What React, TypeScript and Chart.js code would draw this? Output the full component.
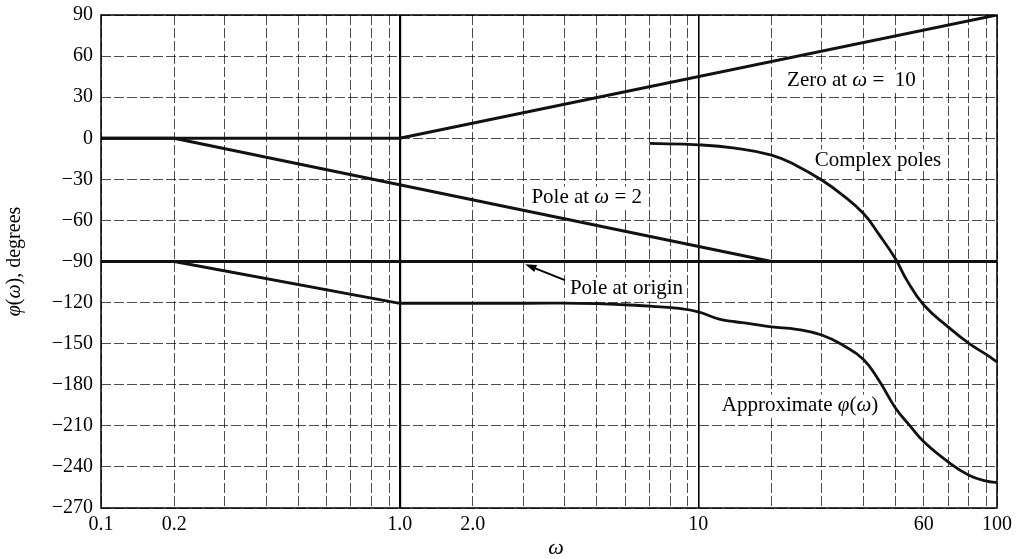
import React, { useEffect, useRef } from 'react';
import { Chart, registerables, LogarithmicScale } from 'chart.js';

Chart.register(...registerables);

// ---------------- data ----------------
const ZERO_OMEGA = [0.1, 1, 100];
const ZERO_PHASE = [0, 0, 90];

const POLE2_OMEGA = [0.1, 0.2, 20];
const POLE2_PHASE = [0, 0, -90];

const ORIGIN_OMEGA = [0.1, 100];
const ORIGIN_PHASE = [-90, -90];

const COMPLEX_OMEGA = [7, 10, 15, 20, 25, 30, 35, 40, 45, 50, 54, 60, 70, 80, 90, 100];
const COMPLEX_PHASE = [-3.8, -4.8, -7.2, -12.3, -20, -30.5, -41.5, -55, -70.7, -88, -103.6, -121.8, -137.7, -149.8, -158, -163.3];

const APPROX_ASYMPTOTE_OMEGA = [0.1, 0.2, 1];
const APPROX_ASYMPTOTE_PHASE = [-90, -90, -120.5];

const APPROX_OMEGA = [1, 3, 5, 7, 8.5, 10, 13, 15, 17, 20, 25, 30, 35, 40, 45, 50, 55, 60, 70, 80, 90, 100];
const APPROX_PHASE = [-120.5, -120.5, -120.7, -122.6, -124.3, -126.8, -132.3, -134, -135.3, -137.7, -139.5, -143.7, -151, -161.5, -177.5, -197, -209.7, -221.7, -236.3, -246, -250.4, -251.3];

// grid / tick values of the log paper
const GRID_OMEGA = [
  0.1, 0.2, 0.3, 0.4, 0.5, 0.6, 0.7, 0.8, 0.9,
  1, 2, 3, 4, 5, 6, 7, 8, 9,
  10, 20, 30, 40, 50, 60, 70, 80, 90, 100,
];
const LABEL_OMEGA = [0.1, 0.2, 1, 2, 10, 60, 100];
const LABEL_TEXT = ['0.1', '0.2', '1.0', '2.0', '10', '60', '100'];

const PHASE_MIN = -270;
const PHASE_MAX = 90;
const PHASE_STEP = 30;

// calibration of the printed log paper (position of each mantissa inside a decade)
const MANTISSA_KNOTS = [1, 2, 3, 4, 5, 6, 7, 8, 9, 10];
const PAPER_FRACTION = [0, 0.245, 0.413, 0.553, 0.66, 0.755, 0.836, 0.906, 0.965, 1];

type Part = { t: string; i?: boolean };
const ANNOTATIONS: { parts: Part[]; omega: number; phase: number }[] = [
  { parts: [{ t: 'Zero at ' }, { t: 'ω', i: true }, { t: ' =  10' }], omega: 23.1, phase: 42.5 },
  { parts: [{ t: 'Complex poles' }], omega: 28.6, phase: -15.9 },
  { parts: [{ t: 'Pole at ' }, { t: 'ω', i: true }, { t: ' = 2' }], omega: 3.2, phase: -43 },
  { parts: [{ t: 'Pole at origin' }], omega: 4.16, phase: -109.4 },
  { parts: [{ t: 'Approximate ' }, { t: 'φ', i: true }, { t: '(' }, { t: 'ω', i: true }, { t: ')' }], omega: 13.2, phase: -194.9 },
];
const ARROW = { fromOmega: 4.0, fromPhase: -103.6, toOmega: 3.05, toPhase: -92 };

const Y_TITLE: Part[] = [{ t: 'φ', i: true }, { t: '(' }, { t: 'ω', i: true }, { t: '), degrees' }];
const X_TITLE: Part[] = [{ t: 'ω', i: true }];

// ---------------- scale ----------------
function paperDecades(v: number): number {
  const k = Math.floor(Math.log10(v) + 1e-9);
  let m = v / Math.pow(10, k);
  if (m < 1) m = 1;
  for (let i = 0; i < MANTISSA_KNOTS.length - 1; i++) {
    if (m <= MANTISSA_KNOTS[i + 1] + 1e-9) {
      const t = (m - MANTISSA_KNOTS[i]) / (MANTISSA_KNOTS[i + 1] - MANTISSA_KNOTS[i]);
      return k + PAPER_FRACTION[i] + t * (PAPER_FRACTION[i + 1] - PAPER_FRACTION[i]);
    }
  }
  return k + 1;
}
function paperValue(u: number): number {
  const k = Math.floor(u + 1e-9);
  const f = u - k;
  for (let i = 0; i < PAPER_FRACTION.length - 1; i++) {
    if (f <= PAPER_FRACTION[i + 1] + 1e-9) {
      const t = (f - PAPER_FRACTION[i]) / (PAPER_FRACTION[i + 1] - PAPER_FRACTION[i]);
      return (MANTISSA_KNOTS[i] + t * (MANTISSA_KNOTS[i + 1] - MANTISSA_KNOTS[i])) * Math.pow(10, k);
    }
  }
  return Math.pow(10, k + 1);
}

class PaperLogScale extends LogarithmicScale {
  static id = 'paperLog';
  getPixelForValue(value: any) {
    if (value === null || value === undefined || isNaN(value) || value <= 0) return NaN;
    const a = paperDecades((this as any).min);
    const b = paperDecades((this as any).max);
    return (this as any).getPixelForDecimal((paperDecades(value) - a) / (b - a));
  }
  getValueForPixel(pixel: number) {
    const a = paperDecades((this as any).min);
    const b = paperDecades((this as any).max);
    return paperValue(a + (this as any).getDecimalForPixel(pixel) * (b - a));
  }
}
Chart.register(PaperLogScale as any);

// ---------------- drawing helpers ----------------
const FAMILY = '"Liberation Serif", "Times New Roman", serif';
function fontOf(size: number, italic?: boolean) {
  return `${italic ? 'italic ' : ''}${size}px ${FAMILY}`;
}
function richWidth(ctx: CanvasRenderingContext2D, parts: Part[], size: number) {
  let w = 0;
  for (const p of parts) {
    ctx.font = fontOf(size, p.i);
    w += ctx.measureText(p.t).width;
  }
  return w;
}
function drawRich(ctx: CanvasRenderingContext2D, parts: Part[], x: number, y: number, size: number, align: 'left' | 'center') {
  const w = richWidth(ctx, parts, size);
  let cx = align === 'center' ? x - w / 2 : x;
  ctx.fillStyle = '#000';
  ctx.textBaseline = 'middle';
  ctx.textAlign = 'left';
  for (const p of parts) {
    ctx.font = fontOf(size, p.i);
    ctx.fillText(p.t, cx, y);
    cx += ctx.measureText(p.t).width;
  }
}

const ANN_SIZE = 21;

const overlayPlugin = {
  id: 'bodeOverlay',
  beforeDatasetsDraw(chart: any) {
    const { ctx, scales } = chart;
    ctx.save();
    for (const an of ANNOTATIONS) {
      const x = scales.x.getPixelForValue(an.omega);
      const y = scales.y.getPixelForValue(an.phase);
      const w = richWidth(ctx, an.parts, ANN_SIZE);
      ctx.fillStyle = '#fff';
      ctx.fillRect(x - 3, y - ANN_SIZE * 0.5, w + 6, ANN_SIZE);
    }
    ctx.restore();
  },
  afterDatasetsDraw(chart: any) {
    const { ctx, chartArea: a, scales } = chart;
    ctx.save();
    ctx.setLineDash([]);
    ctx.strokeStyle = '#000';
    ctx.lineWidth = 1.5;
    ctx.strokeRect(a.left, a.top, a.right - a.left, a.bottom - a.top);

    for (const an of ANNOTATIONS) {
      drawRich(ctx, an.parts, scales.x.getPixelForValue(an.omega), scales.y.getPixelForValue(an.phase), ANN_SIZE, 'left');
    }

    // arrow
    const x1 = scales.x.getPixelForValue(ARROW.fromOmega);
    const y1 = scales.y.getPixelForValue(ARROW.fromPhase);
    const x2 = scales.x.getPixelForValue(ARROW.toOmega);
    const y2 = scales.y.getPixelForValue(ARROW.toPhase);
    const ang = Math.atan2(y2 - y1, x2 - x1);
    const head = 12;
    ctx.strokeStyle = '#000';
    ctx.lineWidth = 2;
    ctx.beginPath();
    ctx.moveTo(x1, y1);
    ctx.lineTo(x2 - Math.cos(ang) * head * 0.8, y2 - Math.sin(ang) * head * 0.8);
    ctx.stroke();
    ctx.fillStyle = '#000';
    ctx.beginPath();
    ctx.moveTo(x2, y2);
    ctx.lineTo(x2 - head * Math.cos(ang - 0.32), y2 - head * Math.sin(ang - 0.32));
    ctx.lineTo(x2 - head * Math.cos(ang + 0.32), y2 - head * Math.sin(ang + 0.32));
    ctx.closePath();
    ctx.fill();

    // axis titles
    ctx.save();
    ctx.translate(15, (a.top + a.bottom) / 2);
    ctx.rotate(-Math.PI / 2);
    drawRich(ctx, Y_TITLE, 0, 0, 20, 'center');
    ctx.restore();
    drawRich(ctx, X_TITLE, (a.left + a.right) / 2 + 7, 548, 22, 'center');
    ctx.restore();
  },
};

function series(omega: number[], phase: number[], label: string, width: number, smooth: boolean) {
  return {
    label,
    data: omega.map((w, i) => ({ x: w, y: phase[i] })),
    showLine: true,
    borderColor: '#111',
    backgroundColor: '#111',
    borderWidth: width,
    pointRadius: 0,
    pointHoverRadius: 0,
    fill: false,
    tension: smooth ? 0.45 : 0,
    cubicInterpolationMode: 'default',
    borderCapStyle: 'butt',
    borderJoinStyle: 'round',
  };
}

const isLabel = (v: number) => LABEL_OMEGA.findIndex((l) => Math.abs(l - v) < l * 1e-6);

export default function App() {
  const ref = useRef<HTMLCanvasElement>(null);
  useEffect(() => {
    const canvas = ref.current;
    if (!canvas) return;
    const tickFont = { family: FAMILY, size: 20 };
    const chart = new Chart(canvas, {
      type: 'scatter',
      data: {
        datasets: [
          series(ORIGIN_OMEGA, ORIGIN_PHASE, 'Pole at origin', 3, false),
          series(ZERO_OMEGA, ZERO_PHASE, 'Zero at ω = 10', 3, false),
          series(POLE2_OMEGA, POLE2_PHASE, 'Pole at ω = 2', 3, false),
          series(COMPLEX_OMEGA, COMPLEX_PHASE, 'Complex poles', 2.8, true),
          series(APPROX_ASYMPTOTE_OMEGA, APPROX_ASYMPTOTE_PHASE, 'Approximate φ(ω)', 2.8, false),
          series(APPROX_OMEGA, APPROX_PHASE, 'Approximate φ(ω)', 2.8, true),
        ] as any,
      },
      options: {
        responsive: false,
        animation: false,
        devicePixelRatio: 1,
        events: [],
        layout: { padding: { top: 15, right: 21, bottom: 0, left: 0 } },
        plugins: { legend: { display: false }, tooltip: { enabled: false }, title: { display: false } },
        scales: {
          x: {
            type: 'paperLog' as any,
            min: 0.1,
            max: 100,
            afterBuildTicks: (s: any) => {
              s.ticks = GRID_OMEGA.map((v) => ({ value: v }));
            },
            afterFit: (s: any) => {
              s.height = 51;
              s.paddingLeft = 0;
              s.paddingRight = 0;
            },
            ticks: {
              autoSkip: false,
              maxRotation: 0,
              minRotation: 0,
              padding: 5,
              font: tickFont,
              color: '#000',
              callback: (v: any) => {
                const i = isLabel(Number(v));
                return i >= 0 ? LABEL_TEXT[i] : '';
              },
            },
            grid: {
              drawTicks: false,
              color: (c: any) => {
                const v = c.tick ? c.tick.value : 0;
                return v === 1 || v === 10 ? '#000' : 'rgba(0,0,0,0.7)';
              },
              lineWidth: (c: any) => {
                const v = c.tick ? c.tick.value : 0;
                return v === 1 ? 2.2 : v === 10 ? 1.6 : 1;
              },
            },
            border: {
              display: false,
              dash: (c: any) => {
                const v = c.tick ? c.tick.value : 0;
                return v === 1 || v === 10 ? [] : [10, 3];
              },
            },
          } as any,
          y: {
            type: 'linear',
            min: PHASE_MIN,
            max: PHASE_MAX,
            afterFit: (s: any) => {
              s.width = 101;
              s.paddingTop = 0;
              s.paddingBottom = 0;
            },
            ticks: {
              stepSize: PHASE_STEP,
              padding: 8,
              font: tickFont,
              color: '#000',
              callback: (v: any) => (Number(v) < 0 ? '\u2212' + Math.abs(Number(v)) : String(v)),
            },
            grid: { drawTicks: false, color: 'rgba(0,0,0,0.7)', lineWidth: 1 },
            border: { display: false, dash: [10, 3] },
          } as any,
        },
      } as any,
      plugins: [overlayPlugin as any],
    });
    return () => chart.destroy();
  }, []);
  return (
    <canvas
      ref={ref}
      width={1018}
      height={559}
      style={{ position: 'fixed', left: 0, top: 0, width: 1018, height: 559, background: '#fff' }}
    />
  );
}
